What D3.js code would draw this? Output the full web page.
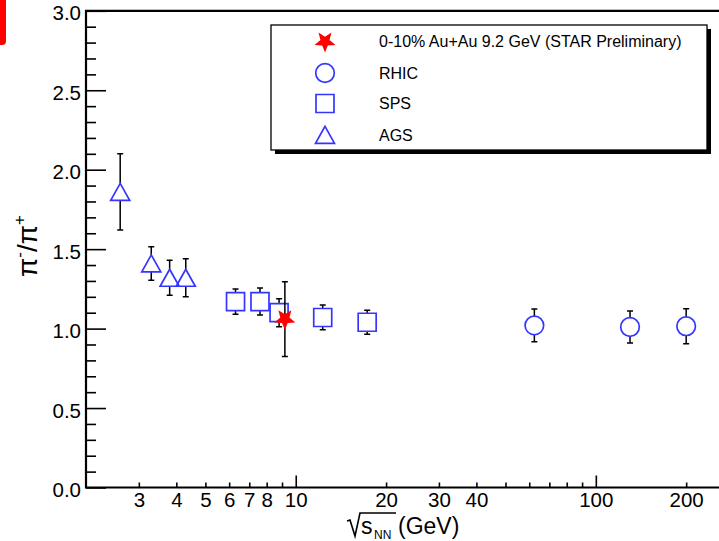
<!DOCTYPE html>
<html>
<head>
<meta charset="utf-8">
<script src="https://cdn.jsdelivr.net/npm/d3@7"></script>
<style>
  html, body { margin: 0; padding: 0; background: #fff; }
  svg { display: block; font-family: "Liberation Sans", Arial, Helvetica, sans-serif; }
</style>
</head>
<body>
<svg id="chart" width="719" height="541"></svg>
<script>
// ---- data ----
const agsEnergy = [2.6, 3.3, 3.8, 4.3];
const agsRatio  = [1.86, 1.41, 1.32, 1.32];
const agsErr    = [0.24, 0.105, 0.11, 0.12];

const spsEnergy = [6.3, 7.6, 8.8, 12.3, 17.3];
const spsRatio  = [1.17, 1.17, 1.10, 1.07, 1.04];
const spsErr    = [0.08, 0.085, 0.088, 0.078, 0.076];

const rhicEnergy = [62.4, 130, 200];
const rhicRatio  = [1.02, 1.01, 1.015];
const rhicErr    = [0.103, 0.10, 0.11];

const starEnergy = [9.2];
const starRatio  = [1.06];
const starErr    = [0.235];

const yMajorTicks = [0, 0.5, 1.0, 1.5, 2.0, 2.5, 3.0];
const yMinorTicks = d3.range(0, 3.0001, 0.1).map(v => +v.toFixed(1));
const xMajorTicks = [10, 100];
const xMinorTicks = [3, 4, 5, 6, 7, 8, 9, 20, 30, 40, 50, 60, 70, 80, 90, 200, 300];
const xTickLabels = [3, 4, 5, 6, 7, 8, 10, 20, 30, 40, 100, 200];

const legendLabels = ["0-10% Au+Au 9.2 GeV (STAR Preliminary)", "RHIC", "SPS", "AGS"];

// ---- layout ----
const svg = d3.select("#chart");
const L = 86, R = 739, T = 10.8, B = 487.5;
const x = d3.scaleLog().domain([2, 300]).range([L, R]);
const y = d3.scaleLinear().domain([0, 3]).range([B, T]);

const BLUE = "#3535ff";

// red mark top-left
svg.append("path")
  .attr("d", "M0,0 H6 V41 Q6,45 2,45 H0 Z")
  .attr("fill", "#ff0000");

// ---- axes ----
const yMinor = svg.append("g").attr("transform", `translate(${L},0)`)
  .call(d3.axisLeft(y).tickValues(yMinorTicks.filter(v => !yMajorTicks.includes(v))).tickSize(-10).tickFormat(""));
const yMajor = svg.append("g").attr("transform", `translate(${L},0)`)
  .call(d3.axisLeft(y).tickValues(yMajorTicks).tickSize(-20).tickPadding(5).tickFormat(d3.format(".1f")));

const xMinor = svg.append("g").attr("transform", `translate(0,${B})`)
  .call(d3.axisBottom(x).tickValues(xMinorTicks).tickSize(-5).tickFormat(""));
const xMajor = svg.append("g").attr("transform", `translate(0,${B})`)
  .call(d3.axisBottom(x).tickValues(xMajorTicks).tickSize(-12).tickFormat(""));
const xLab = svg.append("g").attr("transform", `translate(0,${B})`)
  .call(d3.axisBottom(x).tickValues(xTickLabels).tickSize(0).tickPadding(4.5).tickFormat(d3.format("d")));

[yMinor, yMajor, xMinor, xMajor, xLab].forEach(g => {
  g.select(".domain").remove();
  g.selectAll(".tick line").attr("stroke", "#000").attr("stroke-width", 1.6);
  g.selectAll("text").attr("fill", "#000").attr("font-size", "20.5px")
    .attr("font-family", "'Liberation Sans', Arial, sans-serif");
});
yMajor.selectAll("text").attr("dy", "0.44em");

// frame
svg.append("path")
  .attr("d", `M${L},${B} H${R} M${L},${T} H${R} M${L},${T - 1} V${B + 1}`)
  .attr("stroke", "#000").attr("stroke-width", 2.2).attr("fill", "none");

// ---- titles ----
const yt = svg.append("text")
  .attr("transform", "translate(37,246) rotate(-90)")
  .attr("text-anchor", "middle")
  .attr("font-size", "28px")
  .attr("fill", "#000");
yt.append("tspan").text("π");
yt.append("tspan").attr("font-size", "17px").attr("dy", "-12").text("-");
yt.append("tspan").attr("dy", "12").text("/π");
yt.append("tspan").attr("font-size", "17px").attr("dy", "-12").text("+");

// x title: sqrt(s_NN) (GeV)
svg.append("path")
  .attr("d", "M347,521 L350,520 L355,536 L360,513 H396")
  .attr("stroke", "#000").attr("stroke-width", 1.6).attr("fill", "none");
svg.append("text").attr("x", 361).attr("y", 534).attr("font-size", "23px").attr("fill", "#000").text("s");
svg.append("text").attr("x", 374).attr("y", 539).attr("font-size", "12px").attr("fill", "#000").text("NN");
svg.append("text").attr("x", 398).attr("y", 534).attr("font-size", "23px").attr("fill", "#000").text("(GeV)");

// ---- marker shapes ----
function starPath(Ro, Ri) {
  const pts = [];
  for (let i = 0; i < 10; i++) {
    const a = Math.PI / 2 + i * Math.PI / 5; // first point down
    const r = i % 2 === 0 ? Ro : Ri;
    pts.push([r * Math.cos(a), r * Math.sin(a)]);
  }
  return "M" + pts.map(p => p[0].toFixed(2) + "," + p[1].toFixed(2)).join("L") + "Z";
}
const shapes = {
  star: { d: starPath(11, 4.8), fill: "#ff0000", stroke: "none", gap: 0 },
  circle: { d: "M9.3,0 A9.3,9.3 0 1,1 -9.3,0 A9.3,9.3 0 1,1 9.3,0 Z", fill: "none", stroke: BLUE, gap: 9.3 },
  square: { d: "M-9,-9 H9 V9 H-9 Z", fill: "none", stroke: BLUE, gap: 9 },
  triangle: { d: "M0,-8.5 L9.5,8.5 L-9.5,8.5 Z", fill: "none", stroke: BLUE, gap: 8.5 }
};

function drawSeries(es, vs, errs, shapeKey) {
  const sh = shapes[shapeKey];
  const g = svg.append("g");
  const data = es.map((e, i) => ({ e, v: vs[i], err: errs[i] }));
  data.forEach(d => {
    const cx = x(d.e), cy = y(d.v), top = y(d.v + d.err), bot = y(d.v - d.err);
    const p = d3.path();
    p.moveTo(cx, top); p.lineTo(cx, cy - sh.gap);
    p.moveTo(cx, cy + sh.gap); p.lineTo(cx, bot);
    p.moveTo(cx - 3, top); p.lineTo(cx + 3, top);
    p.moveTo(cx - 3, bot); p.lineTo(cx + 3, bot);
    g.append("path").attr("d", p.toString()).attr("stroke", "#000").attr("stroke-width", 1.5).attr("fill", "none");
  });
  g.selectAll("path.m").data(data).join("path").attr("class", "m")
    .attr("transform", d => `translate(${x(d.e)},${y(d.v)})`)
    .attr("d", sh.d).attr("fill", sh.fill).attr("stroke", sh.stroke).attr("stroke-width", 1.7);
}

drawSeries(agsEnergy, agsRatio, agsErr, "triangle");
drawSeries(spsEnergy, spsRatio, spsErr, "square");
drawSeries(rhicEnergy, rhicRatio, rhicErr, "circle");
drawSeries(starEnergy, starRatio, starErr, "star");

// ---- legend ----
const lg = svg.append("g");
lg.append("rect").attr("x", 275).attr("y", 29).attr("width", 436).attr("height", 125).attr("fill", "#000");
lg.append("rect").attr("x", 271).attr("y", 25).attr("width", 436).attr("height", 125)
  .attr("fill", "#fff").attr("stroke", "#000").attr("stroke-width", 1.3);
const legendKeys = ["star", "circle", "square", "triangle"];
const rowY = [41.5, 73, 103.5, 134.8];
legendKeys.forEach((k, i) => {
  const sh = shapes[k];
  lg.append("path").attr("transform", `translate(325,${rowY[i]})`)
    .attr("d", sh.d).attr("fill", sh.fill).attr("stroke", sh.stroke).attr("stroke-width", 1.7);
  lg.append("text").attr("x", 379).attr("y", rowY[i] + 5.8)
    .attr("font-size", "16px").attr("fill", "#000").text(legendLabels[i]);
});
</script>
</body>
</html>
